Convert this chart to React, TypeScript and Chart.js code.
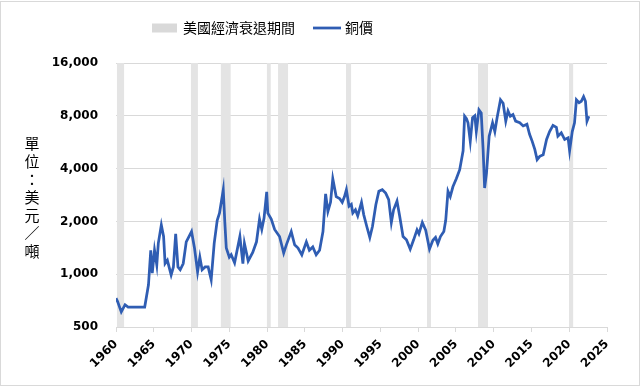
import { useEffect, useRef } from 'react';
import { Chart, registerables } from 'chart.js';

Chart.register(...registerables);

const legendLabels = ['美國經濟衰退期間', '銅價'];
const yAxisTitle = '單位：美元／噸';

const xTicks = [1960, 1965, 1970, 1975, 1980, 1985, 1990, 1995, 2000, 2005, 2010, 2015, 2020, 2025];
const yTicks = [500, 1000, 2000, 4000, 8000, 16000];

const recessions: [number, number][] = [
  [1960.1, 1961.1],
  [1969.9, 1970.85],
  [1973.85, 1975.2],
  [1979.95, 1980.5],
  [1981.45, 1982.8],
  [1990.45, 1991.15],
  [2001.15, 2001.7],
  [2007.9, 2009.25],
  [2019.95, 2020.55],
];

const copperYears = [
  1960.0, 1960.2, 1960.7, 1961.2, 1961.6, 1963.8, 1964.3, 1964.6, 1964.8, 1965.1,
  1965.4, 1965.6, 1966.0, 1966.3, 1966.5, 1966.8, 1967.3, 1967.6, 1967.9, 1968.2,
  1968.5, 1968.9, 1969.3, 1970.0, 1970.4, 1970.8, 1971.1, 1971.4, 1971.8, 1972.2,
  1972.6, 1973.0, 1973.4, 1973.7, 1974.2, 1974.4, 1974.6, 1975.0, 1975.25, 1975.7,
  1976.4, 1976.8, 1977.0, 1977.5, 1978.1, 1978.6, 1979.0, 1979.3, 1979.6, 1979.95,
  1980.1, 1980.55, 1981.0, 1981.65, 1982.2, 1982.55, 1983.2, 1983.65, 1984.1, 1984.6,
  1985.2, 1985.6, 1986.05, 1986.5, 1986.95, 1987.4, 1987.75, 1988.05, 1988.4, 1988.7,
  1989.15, 1989.6, 1989.95, 1990.25, 1990.5, 1990.85, 1991.15, 1991.35, 1991.7, 1992.0,
  1992.5, 1992.8, 1993.2, 1993.6, 1993.95, 1994.4, 1994.8, 1995.25, 1995.7, 1996.1,
  1996.45, 1996.75, 1997.2, 1997.55, 1998.0, 1998.45, 1998.95, 1999.4, 1999.85, 2000.1,
  2000.55, 2001.0, 2001.5, 2001.95, 2002.3, 2002.6, 2002.95, 2003.4, 2003.65, 2003.95,
  2004.25, 2004.6, 2005.05, 2005.5, 2005.95, 2006.15, 2006.4, 2006.6, 2006.9, 2007.2,
  2007.5, 2007.7, 2008.05, 2008.35, 2008.6, 2008.8, 2009.05, 2009.4, 2009.85, 2010.15,
  2010.45, 2010.9, 2011.25, 2011.6, 2011.9, 2012.2, 2012.55, 2012.9, 2013.45, 2013.9,
  2014.4, 2014.75, 2015.1, 2015.45, 2015.75, 2016.1, 2016.55, 2017.0, 2017.4, 2017.85,
  2018.3, 2018.5, 2018.95, 2019.4, 2019.85, 2020.05, 2020.4, 2020.7, 2020.95, 2021.3,
  2021.6, 2021.9, 2022.15, 2022.35, 2022.6,
];

const copperPrices = [
  730, 700, 610, 670, 650, 650, 870, 1370, 1013, 1370,
  1130, 1500, 1910, 1640, 1150, 1200, 990, 1100, 1700, 1100,
  1060, 1150, 1530, 1750, 1400, 1030, 1250, 1060, 1100, 1100,
  930, 1500, 2030, 2230, 3030, 2000, 1410, 1250, 1290, 1160,
  1640, 1150, 1500, 1190, 1330, 1530, 2060, 1800, 2090, 2950,
  2230, 2060, 1800, 1640, 1320, 1470, 1750, 1470, 1410, 1290,
  1530, 1370, 1430, 1290, 1370, 1750, 2870, 2280, 2570, 3500,
  2770, 2700, 2570, 2770, 3030, 2440, 2500, 2230, 2330, 2150,
  2570, 2180, 1870, 1620, 1870, 2490, 2970, 3030, 2900, 2660,
  1970, 2330, 2610, 2150, 1640, 1570, 1390, 1570, 1790, 1700,
  1970, 1780, 1390, 1560, 1620, 1490, 1640, 1750, 2030, 2970,
  2770, 3150, 3500, 3940, 5050, 7960, 7700, 7300, 5720, 7800,
  8000, 6500, 8650, 8300, 5130, 3100, 3780, 6120, 7300, 6500,
  7800, 9870, 9440, 7460, 8520, 7960, 8140, 7460, 7300, 7000,
  7160, 6280, 5720, 5130, 4500, 4700, 4800, 5860, 6500, 7060,
  6870, 6120, 6400, 5860, 5990, 5050, 6500, 7300, 9870, 9500,
  9680, 10300, 9680, 7460, 7960,
];

const GRID = '#d9d9d9';
const BAND = '#e4e4e4';
const LINE = '#2f5db3';

const framePlugin = {
  id: 'frame',
  beforeDraw(chart: any) {
    const ctx = chart.ctx;
    ctx.save();
    ctx.fillStyle = '#ffffff';
    ctx.fillRect(0, 0, chart.width, chart.height);
    ctx.strokeStyle = GRID;
    ctx.lineWidth = 1;
    ctx.strokeRect(0.5, 1.5, 639, 384);
    ctx.restore();
  },
};

const legendPlugin = {
  id: 'customLegend',
  afterDraw(chart: any) {
    const ctx = chart.ctx;
    const ds = chart.data.datasets;
    ctx.save();
    ctx.font = '14px "Noto Sans CJK TC"';
    ctx.textBaseline = 'middle';
    ctx.textAlign = 'left';
    let x = 152;
    const y = 28;
    ds.forEach((d: any, i: number) => {
      if (i === 0) {
        ctx.fillStyle = '#d9d9d9';
        ctx.fillRect(x, y - 4.5, 25, 9);
        x += 25 + 6;
      } else {
        ctx.strokeStyle = d.borderColor;
        ctx.lineWidth = 2.75;
        ctx.beginPath();
        ctx.moveTo(x, y);
        ctx.lineTo(x + 28, y);
        ctx.stroke();
        x += 28 + 4;
      }
      ctx.fillStyle = '#000';
      ctx.fillText(d.label, x, y);
      x += ctx.measureText(d.label).width + 18;
    });
    ctx.restore();
  },
};

const yTitlePlugin = {
  id: 'yTitle',
  afterDraw(chart: any) {
    const ctx = chart.ctx;
    ctx.save();
    ctx.font = '15px "Noto Sans CJK TC"';
    ctx.fillStyle = '#000';
    ctx.textAlign = 'center';
    ctx.textBaseline = 'middle';
    Array.from(yAxisTitle).forEach((ch, i) => {
      ctx.fillText(ch, 32, 143 + i * 18);
    });
    ctx.restore();
  },
};

export default function App() {
  const ref = useRef<HTMLCanvasElement | null>(null);

  useEffect(() => {
    document.body.style.margin = '0';
    if (!ref.current) return;

    const bandPoints: any[] = [];
    recessions.forEach(([s, e]) => {
      bandPoints.push({ x: s, y: 16000 }, { x: e, y: 16000 }, { x: e, y: null });
    });
    const copperPoints = copperYears.map((x, i) => ({ x, y: copperPrices[i] }));

    const tickFont = { family: '"DejaVu Sans"', weight: 'bold' as const, size: 12 };

    const chart = new Chart(ref.current, {
      type: 'line',
      data: {
        datasets: [
          {
            label: legendLabels[0],
            data: bandPoints,
            fill: 'start',
            backgroundColor: BAND,
            borderColor: 'rgba(0,0,0,0)',
            borderWidth: 0,
            pointRadius: 0,
            spanGaps: false,
            order: 2,
          },
          {
            label: legendLabels[1],
            data: copperPoints,
            fill: false,
            borderColor: LINE,
            backgroundColor: LINE,
            borderWidth: 2.75,
            pointRadius: 0,
            tension: 0,
            order: 1,
          },
        ],
      },
      options: {
        animation: false,
        responsive: false,
        layout: { padding: { top: 63, right: 37, left: 0, bottom: 0 } },
        plugins: {
          legend: { display: false },
          tooltip: { enabled: false },
        },
        scales: {
          x: {
            type: 'linear',
            min: 1960,
            max: 2025,
            afterBuildTicks: (s: any) => {
              s.ticks = xTicks.map((v) => ({ value: v }));
            },
            afterFit: (s: any) => {
              s.height = 62;
            },
            ticks: {
              autoSkip: false,
              minRotation: 45,
              maxRotation: 45,
              padding: 5,
              color: '#000',
              font: tickFont,
              callback: (v: any) => String(v),
            },
            grid: { drawOnChartArea: false, drawTicks: true, tickLength: 5, color: GRID },
            border: { display: true, color: GRID },
          },
          y: {
            type: 'logarithmic',
            min: 500,
            max: 16000,
            afterBuildTicks: (s: any) => {
              s.ticks = yTicks.map((v) => ({ value: v }));
            },
            afterFit: (s: any) => {
              s.width = 116;
            },
            ticks: {
              padding: 18,
              color: '#000',
              font: tickFont,
              callback: (v: any) => Number(v).toLocaleString('en-US'),
            },
            grid: { color: GRID, drawTicks: false },
            border: { display: false },
          },
        },
      },
      plugins: [framePlugin, legendPlugin, yTitlePlugin],
    });

    return () => chart.destroy();
  }, []);

  return (
    <div style={{ width: 644, height: 389 }}>
      <canvas ref={ref} width={644} height={389} style={{ display: 'block' }} />
    </div>
  );
}
